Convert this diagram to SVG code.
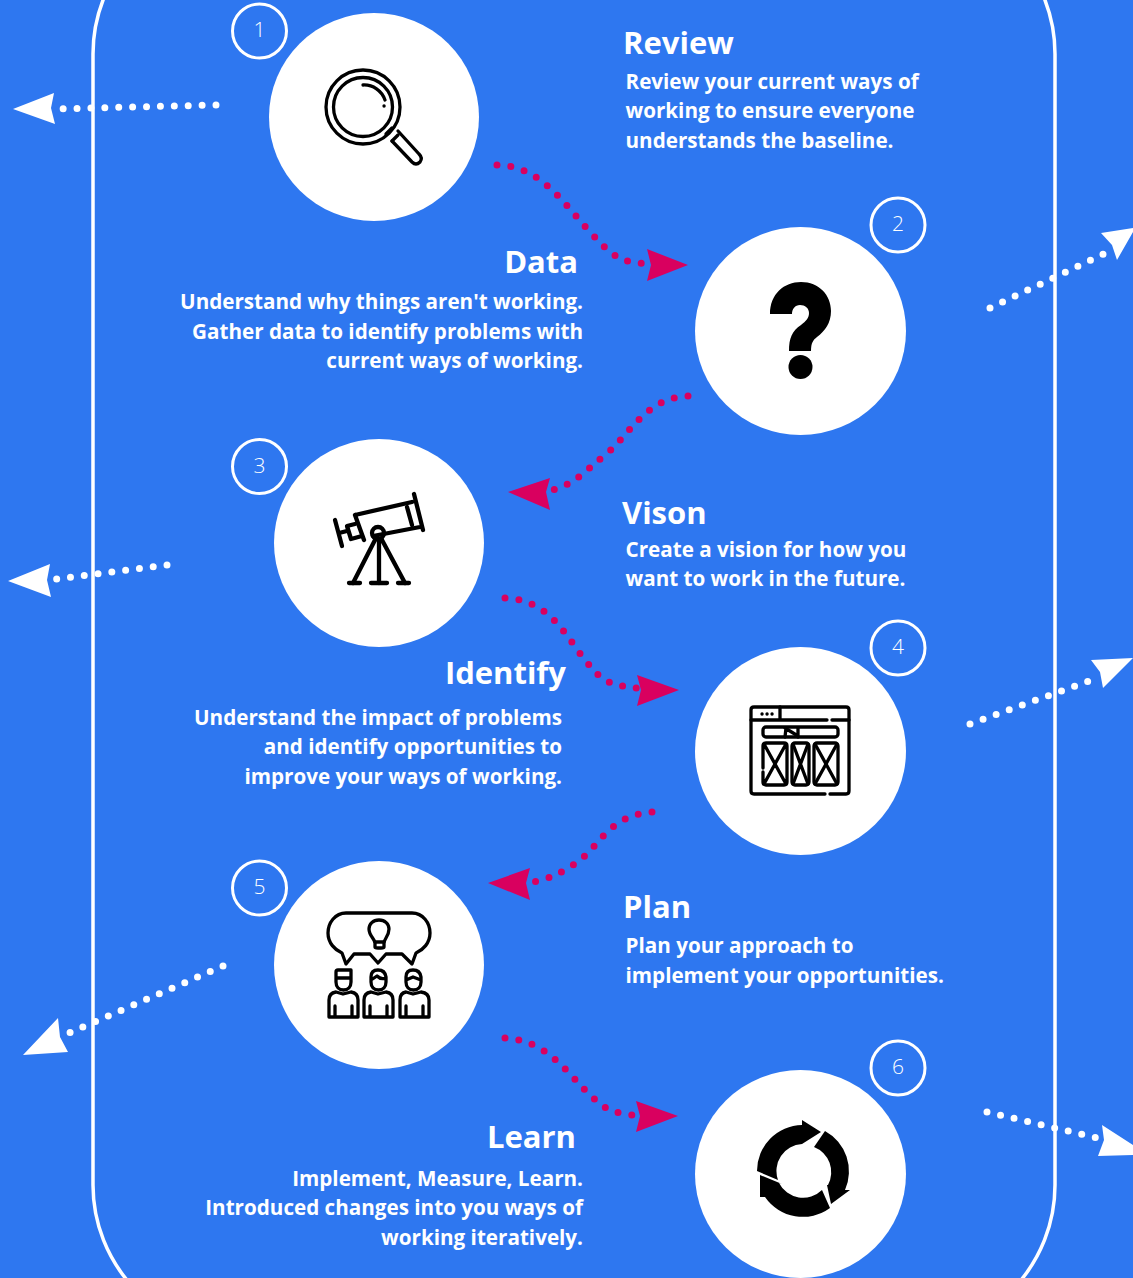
<svg xmlns="http://www.w3.org/2000/svg" width="1133" height="1278" viewBox="0 0 1133 1278">
<style>
text{font-family:"Open Sans","Liberation Sans",sans-serif;fill:#fff}
.t{font-size:31px;font-weight:700}
.b{font-size:20.650px;font-weight:700}
.e{text-anchor:end}
.n{font-size:21px;font-weight:300;text-anchor:middle}
.c{fill:#fff}
.bd{fill:none;stroke:#fff;stroke-width:3}
.i{fill:none;stroke:#000;stroke-width:3.300;stroke-linecap:round;stroke-linejoin:round}
.dp{fill:none;stroke:#d9005f;stroke-width:7;stroke-linecap:round;stroke-dasharray:0 13.9}
.dw{fill:none;stroke:#fff;stroke-width:7;stroke-linecap:round;stroke-dasharray:0 13.9}
.ap{fill:#d9005f}
.aw{fill:#fff}
</style>
<rect width="1133" height="1278" fill="#2e77f0"/>
<rect x="93" y="-96" width="962" height="1431" rx="150" ry="150" fill="none" stroke="#fff" stroke-width="3.5"/>
<g id="connectors">
<path class="dp" d="M497 165C540 165 565 205 590 232S620 262 650 264"/>
<polygon class="ap" points="647,249 688,265 647,281 651,265"/>
<path class="dp" d="M688 396C645 398 630 435 605 455S575 485 545 492"/>
<polygon class="ap" points="550,478 508,492 550,510 546,492"/>
<path class="dp" d="M505 598C550 600 565 635 585 660S610 685 645 689"/>
<polygon class="ap" points="637,675 679,690 637,706 641,690"/>
<path class="dp" d="M652 812C610 815 600 845 580 860S550 878 525 884"/>
<polygon class="ap" points="530,868 488,883 530,900 526,883"/>
<path class="dp" d="M505 1038C545 1040 565 1070 585 1090S610 1113 642 1116"/>
<polygon class="ap" points="636,1101 678,1116 636,1132 640,1116"/>
<path class="dw" d="M216 105L52 109"/>
<polygon class="aw" points="54,93 13,109 55,124 51,108"/>
<path class="dw" d="M167 565L48 580"/>
<polygon class="aw" points="50,564 8,581 51,597 47,580"/>
<path class="dw" d="M223 966L60 1037"/>
<polygon class="aw" points="58,1018 23,1055 68,1052 60,1037"/>
<path class="dw" d="M990 308L1112 250"/>
<polygon class="aw" points="1101,233 1133,228 1133,232 1117,260 1112,245"/>
<path class="dw" d="M970 724L1100 677"/>
<polygon class="aw" points="1091,660 1133,658 1103,688 1100,672"/>
<path class="dw" d="M987 1112L1102 1139"/>
<polygon class="aw" points="1102,1125 1133,1145 1133,1155 1098,1156 1104,1140"/>
</g>
<g id="node1">
<ellipse class="c" cx="374" cy="117" rx="105" ry="104"/>
<circle class="bd" cx="259.500" cy="31" r="27"/>
<text class="n" x="259.500" y="37">1</text>
<g class="i">
<circle cx="363" cy="107" r="37"/><circle cx="363" cy="107" r="29.500"/>
<path d="M363 85A22 22 0 0 1 385 100"/><path d="M384 106h.1"/>
<path d="M386 134L392 128M392 141L398 135"/>
<path d="M392 141L412 162Q416 166 420 162Q423 158 419 154L398 131"/>
</g>
</g>
<g id="node2">
<ellipse class="c" cx="800.500" cy="331" rx="105.500" ry="104"/>
<circle class="bd" cx="898" cy="225" r="27"/>
<text class="n" x="898" y="231">2</text>
<path fill="#000" d="M770 314C770 294 784 282 801 282C819 282 831 295 831 311C831 323 825 331 817 337C813 340 811 343 811 351H789C789 338 792 331 801 325C806 321 809 318 809 313C809 308 805 305 800 305C795 305 792 309 792 314Z"/>
<circle cx="800.500" cy="367" r="12"/>
</g>
<g id="node3">
<ellipse class="c" cx="379" cy="543" rx="105" ry="104"/>
<circle class="bd" cx="259.500" cy="466.500" r="27"/>
<text class="n" x="259.500" y="472.500">3</text>
<g class="i" style="stroke-width:4.300">
<path d="M355 515L412 502M414 494L423 530M420 527L373 536M364 540L355 515"/>
<path d="M407 507L412 525"/>
<path d="M355 524L347 526L351 539L362 536"/>
<path d="M335 520L342 546M339 533L347 531"/>
<circle cx="378" cy="533" r="6"/>
<path d="M375 540L353 583M382 540L405 583M379 540V583"/>
<path d="M349 583H360M371 583H387M398 583H409"/>
</g>
</g>
<g id="node4">
<ellipse class="c" cx="800.500" cy="751" rx="105.500" ry="104"/>
<circle class="bd" cx="898" cy="648" r="27"/>
<text class="n" x="898" y="654">4</text>
<g class="i">
<path d="M825 794H754Q751 794 751 791V710Q751 707 754 707H846Q849 707 849 710V791Q849 794 846 794H830"/>
<path d="M751 720H827M832 720H849M780 707V720"/>
<path d="M762 714h.1M767 714h.1M772 714h.1"/>
<rect x="763" y="727" width="75" height="10" rx="3"/>
<path d="M785 728L798 736M785 737L786 728M798 728V737"/>
<path d="M763 768V746Q763 743 766 743H784Q787 743 787 746V782Q787 785 784 785H766Q763 785 763 782V772M764 744L786 784M786 744L764 784"/>
<rect x="792" y="743" width="17" height="42" rx="3"/><path d="M793 744L808 784M808 744L793 784"/>
<rect x="814" y="743" width="24" height="42" rx="3"/><path d="M815 744L837 784M837 744L815 784"/>
</g>
</g>
<g id="node5">
<ellipse class="c" cx="379" cy="965" rx="105" ry="104"/>
<circle class="bd" cx="259.500" cy="888" r="27"/>
<text class="n" x="259.500" y="894">5</text>
<g class="i">
<path d="M346 913H412C423 913 430 923 430 933C430 943 423 950 416 953L412 964L402 954H386L378 963L370 954H354L346 964L342 953C335 950 328 943 328 933C328 923 335 913 346 913Z"/>
<path d="M375 943V947Q375 948 378 948H381Q384 948 384 947V943C384 939 389 936 389 929C389 924 385 920 379 920C373 920 369 924 369 929C369 936 375 939 375 943Z"/>
<path d="M375 942H384"/>
<path d="M336 972Q336 970 338 970H351V982C351 987 348 990 343.500 990C339 990 336 987 336 982ZM336 978H351"/>
<path d="M371 977Q371 970 378 970Q385 970 386 977V982C386 987 383 990 378.500 990C374 990 371 987 371 982ZM371 980L377 976Q381 980 386 978"/>
<path d="M406 977Q406 970 413 970Q420 970 421 977V982C421 987 418 990 413.500 990C409 990 406 987 406 982ZM406 980L413 977L421 980"/>
<path d="M329 1017V1000Q329 993 336 992L343 994L351 992Q358 993 358 1000V1017ZM335 1006V1016M352 1006V1016"/>
<path d="M364 1017V1000Q364 993 371 992L378 994L386 992Q393 993 393 1000V1017ZM370 1006V1016M387 1006V1016"/>
<path d="M400 1017V1000Q400 993 406 992L413 994L421 992Q429 993 429 1000V1017ZM406 1006V1016M423 1006V1016"/>
</g>
</g>
<g id="node6">
<ellipse class="c" cx="800.500" cy="1174" rx="105.500" ry="104"/>
<circle class="bd" cx="898" cy="1068" r="27"/>
<text class="n" x="898" y="1074">6</text>
<g fill="#000">
<path d="M757 1171A46 46 0 0 1 802 1125L802 1120L821 1132L802 1144A27 27 0 0 0 778 1180Z"/>
<path d="M825 1131A46 46 0 0 1 845 1190L850 1190L831 1204L827 1185L828 1185A27 27 0 0 0 814 1147Z"/>
<path d="M830 1208A46 46 0 0 1 765 1197L760 1197L760 1175L782 1184L779 1183A27 27 0 0 0 822 1190Z"/>
</g>
</g>
<g id="labels">
<text class="t" x="623" y="54">Review</text>
<text class="b" x="625.500" y="88.500">Review your current ways of</text>
<text class="b" x="625.500" y="118">working to ensure everyone</text>
<text class="b" x="625.500" y="147.500">understands the baseline.</text>
<text class="t e" x="578" y="273">Data</text>
<text class="b e" x="583" y="308.500">Understand why things aren't working.</text>
<text class="b e" x="583" y="338.500">Gather data to identify problems with</text>
<text class="b e" x="583" y="368">current ways of working.</text>
<text class="t" x="622" y="524">Vison</text>
<text class="b" x="625.500" y="556.500">Create a vision for how you</text>
<text class="b" x="625.500" y="586">want to work in the future.</text>
<text class="t e" x="566" y="684">Identify</text>
<text class="b e" x="562" y="724.500">Understand the impact of problems</text>
<text class="b e" x="562" y="754">and identify opportunities to</text>
<text class="b e" x="562" y="784">improve your ways of working.</text>
<text class="t" x="623" y="918">Plan</text>
<text class="b" x="625.500" y="953">Plan your approach to</text>
<text class="b" x="625.500" y="982.500">implement your opportunities.</text>
<text class="t e" x="576" y="1148">Learn</text>
<text class="b e" x="583" y="1185.500">Implement, Measure, Learn.</text>
<text class="b e" x="583" y="1215">Introduced changes into you ways of</text>
<text class="b e" x="583" y="1244.500">working iteratively.</text>
</g>
</svg>
